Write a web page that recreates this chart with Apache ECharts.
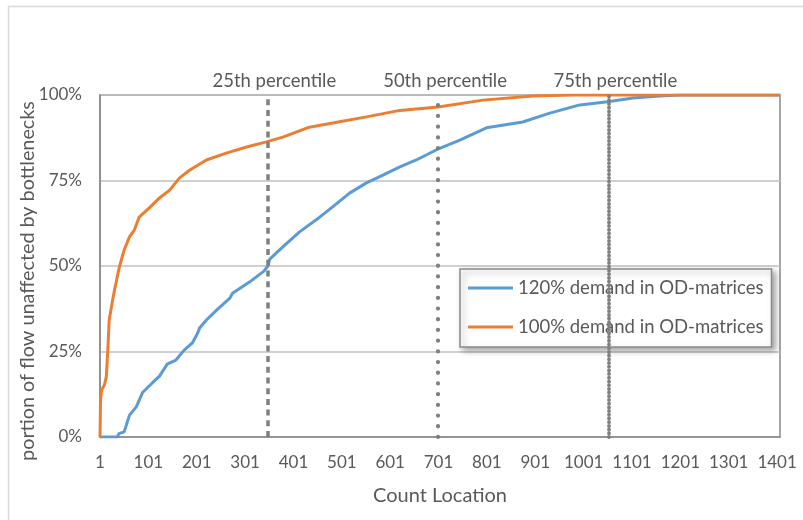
<!DOCTYPE html>
<html>
<head>
<meta charset="utf-8">
<script src="https://cdn.jsdelivr.net/npm/echarts@6/dist/echarts.min.js"></script>
<style>
html,body{margin:0;padding:0;background:#fff;}
#chart{width:803px;height:520px;}
</style>
</head>
<body>
<div id="chart"></div>
<script>
// ---- data ----
var xTickLabels = [1, 101, 201, 301, 401, 501, 601, 701, 801, 901, 1001, 1101, 1201, 1301, 1401];
var yTickValues = [0, 25, 50, 75, 100];

var seriesNames = ['120% demand in OD-matrices', '100% demand in OD-matrices'];

var blueCount = [1, 37, 40, 51, 62, 76, 89, 109, 124, 140, 158, 175, 192, 203, 207, 221, 242, 269, 275, 310, 340, 348, 352, 379, 413, 448, 482, 517, 552, 586, 621, 655, 697, 745, 800, 875, 931, 993, 1051, 1103, 1158, 1200, 1407];
var blueValue = [0, 0, 1, 1.5, 6.4, 8.8, 13, 15.8, 17.8, 21.3, 22.5, 25.4, 27.5, 30.4, 31.9, 34.2, 37.1, 40.5, 42, 45.3, 48.5, 50, 52, 55.6, 59.9, 63.5, 67.3, 71.3, 74.3, 76.6, 79, 81, 84, 86.8, 90.4, 92.1, 94.7, 97.1, 98, 99.1, 99.7, 100, 100];

var orangeCount = [1, 2, 4, 10, 14, 17, 20, 27, 31, 41, 51, 62, 72, 82, 103, 124, 145, 165, 186, 221, 262, 304, 345, 379, 434, 482, 552, 621, 700, 793, 896, 979, 1407];
var orangeValue = [0, 10, 13.7, 15.2, 17.5, 25, 34.2, 40, 43, 49.7, 54.7, 58.5, 60.5, 64.3, 67, 69.9, 72.2, 75.7, 78, 81, 83, 84.8, 86.3, 87.7, 90.6, 91.8, 93.6, 95.5, 96.5, 98.5, 99.7, 100, 100];

var percentileCounts = [347, 700, 1052];
var percentileLabels = ['25th percentile', '50th percentile', '75th percentile'];

// ---- build ----
function pairs(xs, ys) {
  var out = [];
  for (var i = 0; i < xs.length; i++) out.push([xs[i], ys[i]]);
  return out;
}

var FONT = 'Lato';
var TXT = '#595959';
var dashStyles = [
  { type: [6, 4.7], cap: 'butt', width: 3.5 },
  { type: [0.1, 10.6], cap: 'round', width: 4.2 },
  { type: [0.1, 3.6], cap: 'round', width: 3.8 }
];

var markData = percentileCounts.map(function (c, i) {
  return {
    xAxis: c,
    name: percentileLabels[i],
    lineStyle: {
      color: '#7f7f7f',
      width: dashStyles[i].width,
      type: dashStyles[i].type,
      cap: dashStyles[i].cap
    }
  };
});

// thin horizontal bar inside a 45x20 box (move-to points fix the box)
var lineIcon = 'path://M0,0M45,20M0,8.5L45,8.5L45,11.5L0,11.5Z';

var chart = echarts.init(document.getElementById('chart'), null, { renderer: 'canvas' });

chart.setOption({
  animation: false,
  backgroundColor: '#fff',
  textStyle: { fontFamily: FONT },
  grid: {
    left: 100, right: 23, top: 95, bottom: 83,
    show: true, borderColor: '#898989', borderWidth: 1.5, backgroundColor: 'transparent'
  },
  graphic: [
    {
      type: 'rect', silent: true, z: -10,
      shape: { x: 8.5, y: 6.5, width: 1000, height: 1000 },
      style: { fill: '#fff', stroke: '#d9d9d9', lineWidth: 1.5 }
    },
    {
      type: 'text', silent: true,
      x: 28, y: 281, rotation: Math.PI / 2,
      style: {
        text: 'portion of flow unaffected by bottlenecks',
        fontFamily: FONT, fontSize: 19.8, fill: TXT,
        align: 'center', verticalAlign: 'middle'
      }
    }
  ],
  legend: {
    data: seriesNames.map(function (n) { return { name: n, icon: lineIcon }; }),
    orient: 'vertical',
    left: 460, top: 269,
    itemWidth: 45, itemHeight: 20, itemGap: 19,
    padding: [9, 8, 10, 8],
    backgroundColor: '#fff',
    borderColor: '#8a8a8a', borderWidth: 1.5, borderRadius: 0,
    shadowColor: 'rgba(0,0,0,0.35)', shadowBlur: 6, shadowOffsetX: 3, shadowOffsetY: 3,
    itemStyle: { borderWidth: 0 },
    textStyle: { fontFamily: FONT, fontSize: 18.5, color: TXT },
    selectedMode: false
  },
  xAxis: {
    type: 'value',
    min: 1, max: 1407,
    name: 'Count Location',
    nameLocation: 'middle',
    nameGap: 49,
    nameTextStyle: { fontFamily: FONT, fontSize: 20, color: TXT },
    axisLine: { show: true, lineStyle: { color: '#898989', width: 1.5 } },
    axisTick: { show: false },
    splitLine: { show: false },
    axisLabel: {
      customValues: xTickLabels,
      formatter: function (v) { return String(v); },
      margin: 17,
      fontFamily: FONT, fontSize: 17, color: TXT
    }
  },
  yAxis: {
    type: 'value',
    min: 0, max: 100, interval: 25,
    axisLine: { show: true, lineStyle: { color: '#898989', width: 1.5 } },
    axisTick: { show: false },
    splitLine: { show: true, lineStyle: { color: '#c0c0c0', width: 1.5 } },
    axisLabel: {
      customValues: yTickValues,
      formatter: '{value}%',
      margin: 18,
      fontFamily: FONT, fontSize: 17, color: TXT
    }
  },
  series: [
    {
      name: seriesNames[0], type: 'line', symbol: 'none', silent: true,
      data: pairs(blueCount, blueValue),
      lineStyle: { color: '#5B9BD5', width: 3 },
      itemStyle: { color: '#5B9BD5' }
    },
    {
      name: seriesNames[1], type: 'line', symbol: 'none', silent: true,
      data: pairs(orangeCount, orangeValue),
      lineStyle: { color: '#ED7D31', width: 3 },
      itemStyle: { color: '#ED7D31' }
    },
    {
      name: 'percentiles', type: 'line', symbol: 'none', silent: true,
      data: [],
      z: 3,
      markLine: {
        silent: true,
        symbol: ['none', 'none'],
        animation: false,
        label: {
          show: true, position: 'end', distance: 4,
          formatter: '{b}',
          padding: [0, 0, 0, 14],
          fontFamily: FONT, fontSize: 18.5, color: TXT
        },
        emphasis: { disabled: true },
        data: markData
      }
    }
  ]
});
</script>
</body>
</html>
